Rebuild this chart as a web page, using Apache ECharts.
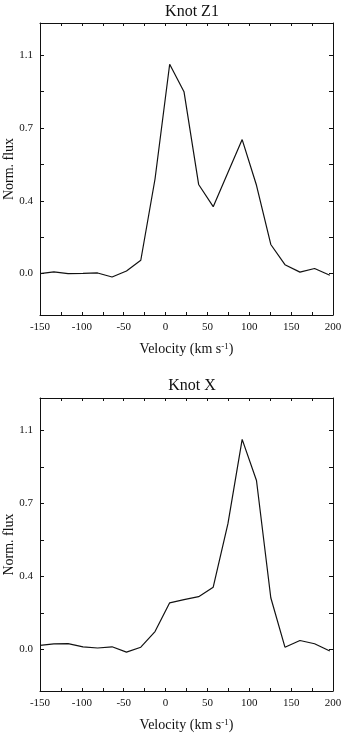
<!DOCTYPE html>
<html>
<head>
<meta charset="utf-8">
<script src="https://cdn.jsdelivr.net/npm/echarts@6.0.0/dist/echarts.min.js"></script>
<style>
  html, body { margin: 0; padding: 0; background: #fff; }
  #chart { width: 342px; height: 735px; }
</style>
</head>
<body>
<div id="chart"></div>
<script>
  // velocity channels (km/s), shared by both knots
  const velocity = [-150, -133.4, -116.5, -98.6, -81.2, -63.9, -46.7, -29.6, -12.6, 4.9, 22.0,
    39.5, 56.9, 74.5, 91.5, 108.6, 125.7, 142.6, 160.5, 178.0, 196.2];
  const fluxZ1 = [0.000, 0.008, 0.000, 0.001, 0.003, -0.017, 0.013, 0.066, 0.468, 1.036, 0.900,
    0.441, 0.331, 0.500, 0.663, 0.437, 0.144, 0.044, 0.007, 0.025, -0.008];
  const fluxX = [0.020, 0.027, 0.029, 0.013, 0.007, 0.013, -0.013, 0.011, 0.088, 0.230, 0.246,
    0.260, 0.307, 0.620, 1.036, 0.833, 0.255, 0.011, 0.044, 0.028, -0.008];

  const panelTitles = ['Knot Z1', 'Knot X'];
  const yLabelValues = [0, 0.36, 0.72, 1.08];
  const yLabelTexts = ['0.0', '0.4', '0.7', '1.1'];
  const yTickValues = [0, 0.18, 0.36, 0.54, 0.72, 0.9, 1.08];

  const font = '"Liberation Serif", "DejaVu Serif", serif';
  const ink = '#111';

  function yLabel(v) {
    for (let i = 0; i < yLabelValues.length; i++) {
      if (Math.abs(yLabelValues[i] - v) < 1e-6) return yLabelTexts[i];
    }
    return '';
  }

  const grids = [
    { left: 40, top: 23, width: 293, height: 292, outerBoundsMode: 'none', containLabel: false },
    { left: 40, top: 398, width: 293, height: 293, outerBoundsMode: 'none', containLabel: false }
  ];

  let xAxes = [], yAxes = [], series = [], titles = [];
  grids.forEach((g, i) => {
    // bottom axis with labels
    xAxes.push({
      gridIndex: i, type: 'value', position: 'bottom',
      min: -150, max: 200, interval: 50,
      name: 'Velocity (km s{sup|-1})',
      nameLocation: 'middle', nameGap: 27, nameMoveOverlap: false,
      nameTextStyle: {
        fontFamily: font, fontSize: 14, color: ink,
        rich: { sup: { fontFamily: font, fontSize: 9, color: ink, verticalAlign: 'top', padding: [0, 0, 6, 0] } }
      },
      axisLine: { onZero: false, lineStyle: { color: ink, width: 1 } },
      axisTick: { inside: true, length: 3, lineStyle: { color: ink } },
      minorTick: { show: true, splitNumber: 2, length: 3, lineStyle: { color: ink } },
      axisLabel: { fontFamily: font, fontSize: 11, color: ink, margin: 7, showMinLabel: true, showMaxLabel: true },
      splitLine: { show: false }
    });
    // mirrored top axis, ticks only
    xAxes.push({
      gridIndex: i, type: 'value', position: 'top',
      min: -150, max: 200, interval: 50,
      axisLine: { onZero: false, lineStyle: { color: ink, width: 1 } },
      axisTick: { inside: true, length: 3, lineStyle: { color: ink } },
      minorTick: { show: true, splitNumber: 2, length: 3, lineStyle: { color: ink } },
      axisLabel: { show: false },
      splitLine: { show: false }
    });
    yAxes.push({
      gridIndex: i, type: 'value', position: 'left',
      min: -0.205, max: 1.24,
      name: 'Norm. flux', nameLocation: 'middle', nameGap: 24, nameMoveOverlap: false,
      nameTextStyle: { fontFamily: font, fontSize: 14, color: ink },
      axisLine: { show: true, onZero: false, lineStyle: { color: ink, width: 1 } },
      axisTick: { show: true, inside: true, length: 4, customValues: yTickValues, lineStyle: { color: ink } },
      axisLabel: { fontFamily: font, fontSize: 11, color: ink, margin: 7, customValues: yLabelValues, formatter: yLabel },
      splitLine: { show: false }
    });
    yAxes.push({
      gridIndex: i, type: 'value', position: 'right',
      min: -0.205, max: 1.24,
      axisLine: { show: true, onZero: false, lineStyle: { color: ink, width: 1 } },
      axisTick: { show: true, inside: true, length: 4, customValues: yTickValues, lineStyle: { color: ink } },
      axisLabel: { show: false },
      splitLine: { show: false }
    });
    series.push({
      type: 'line',
      xAxisIndex: i * 2, yAxisIndex: i * 2,
      data: velocity.map((v, k) => [v, (i === 0 ? fluxZ1 : fluxX)[k]]),
      showSymbol: false,
      lineStyle: { color: ink, width: 1.2 },
      animation: false
    });
    titles.push({
      text: panelTitles[i],
      left: 187, textAlign: 'center',
      top: i === 0 ? -1 : 373,
      textStyle: { fontFamily: font, fontSize: 16, fontWeight: 'normal', color: ink }
    });
  });

  const chart = echarts.init(document.getElementById('chart'));
  chart.setOption({
    animation: false,
    title: titles,
    grid: grids,
    xAxis: xAxes,
    yAxis: yAxes,
    series: series
  });
</script>
</body>
</html>
